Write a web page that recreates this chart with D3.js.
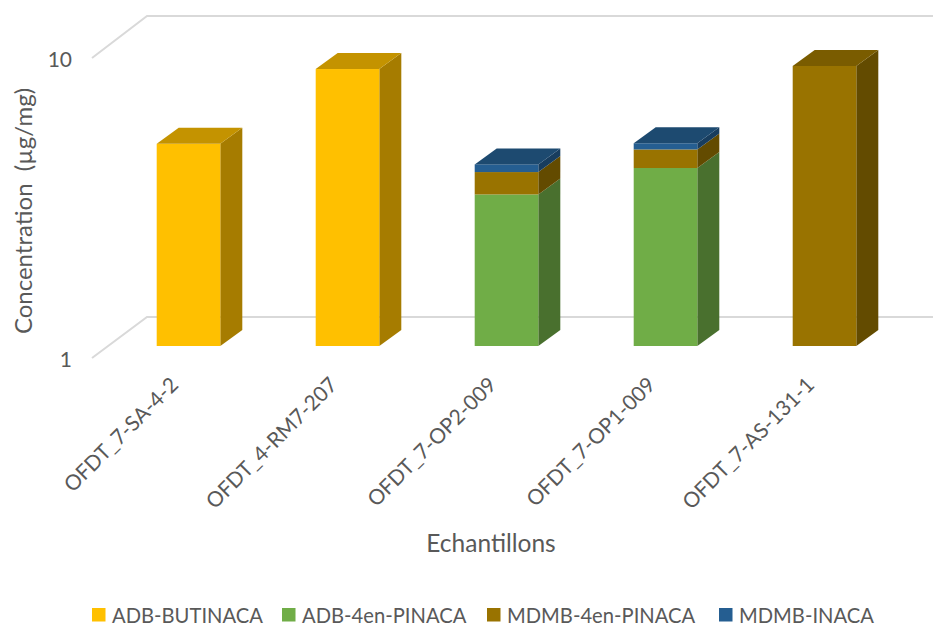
<!DOCTYPE html>
<html>
<head>
<meta charset="utf-8">
<script src="https://cdn.jsdelivr.net/npm/d3@7/dist/d3.min.js"></script>
<style>
html, body { margin: 0; padding: 0; background: #fff; }
svg { display: block; }
text { font-family: Lato, "Open Sans", sans-serif; fill: #595959; }
</style>
</head>
<body>
<svg id="chart" width="933" height="625"></svg>
<script>
const samples = ["OFDT_7-SA-4-2", "OFDT_4-RM7-207", "OFDT_7-OP2-009", "OFDT_7-OP1-009", "OFDT_7-AS-131-1"];
const seriesNames = ["ADB-BUTINACA", "ADB-4en-PINACA", "MDMB-4en-PINACA", "MDMB-INACA"];
const adbButinaca = [4.72, 8.38, 0, 0, 0];
const adb4enPinaca = [0, 0, 3.2, 3.92, 0];
const mdmb4enPinaca = [0, 0, 0.6, 0.60, 8.58];
const mdmbInaca = [0, 0, 0.23, 0.22, 0];
const yTicks = [1, 10];

const frontColors = ["#FFC000", "#70AD47", "#997300", "#255E91"];
const sideColors = ["#A67C00", "#49702E", "#634B00", "#183D5E"];
const topColors = ["#C49300", "#568536", "#7A5C00", "#1D4A70"];
const legendX = [92, 282, 487, 719];

const svg = d3.select("#chart");
const depthX = 22, depthY = 16;

const x = d3.scaleBand().domain(samples).range([109, 904]).paddingInner(0.6).paddingOuter(0.3);
const yBar = d3.scaleLog().domain([1, 10]).range([346, 46]);
const yWall = d3.scaleLog().domain([1, 10]).range([317, 16]);
const yFront = d3.scaleLog().domain([1, 10]).range([358, 58]);

// Gridlines: a slanted run on the side wall, then along the back wall
const grid = svg.append("g").attr("fill", "none").attr("stroke", "#D9D9D9").attr("stroke-width", 2);
grid.selectAll("path").data(yTicks).join("path")
  .attr("d", d => `M92,${yFront(d)}L147,${yWall(d)}L933,${yWall(d)}`);

// Stacked bars
const rows = samples.map((s, i) => ({
  sample: s,
  [seriesNames[0]]: adbButinaca[i],
  [seriesNames[1]]: adb4enPinaca[i],
  [seriesNames[2]]: mdmb4enPinaca[i],
  [seriesNames[3]]: mdmbInaca[i]
}));
const layers = d3.stack().keys(seriesNames)(rows);
const bars = svg.append("g");

samples.forEach((s, i) => {
  const x0 = x(s), x1 = x0 + x.bandwidth();
  const segs = layers.map((l, k) => ({ k, y0: l[i][0], y1: l[i][1] })).filter(d => d.y1 > d.y0);
  const g = bars.append("g");
  segs.forEach(seg => {
    const yb = yBar(Math.max(1, seg.y0)), yt = yBar(seg.y1);
    g.append("path").attr("fill", sideColors[seg.k])
      .attr("d", `M${x1},${yb}L${x1 + depthX},${yb - depthY}L${x1 + depthX},${yt - depthY}L${x1},${yt}Z`);
    g.append("rect").attr("fill", frontColors[seg.k])
      .attr("x", x0).attr("y", yt).attr("width", x1 - x0).attr("height", yb - yt);
  });
  const last = segs[segs.length - 1];
  const yt = yBar(last.y1);
  g.append("path").attr("fill", topColors[last.k])
    .attr("d", `M${x0},${yt}L${x0 + depthX},${yt - depthY}L${x1 + depthX},${yt - depthY}L${x1},${yt}Z`);
});

// Value axis
const yAxis = svg.append("g").attr("transform", "translate(78,2)")
  .call(d3.axisLeft(yFront).tickValues(yTicks).tickFormat(d3.format("d")).tickSize(0).tickPadding(6));
yAxis.select(".domain").remove();
yAxis.selectAll("text").attr("font-size", 21).style("font-family", "Lato, sans-serif").style("fill", "#595959");

// Category axis with slanted labels
const xAxis = svg.append("g").attr("transform", "translate(0,372)")
  .call(d3.axisBottom(x).tickSize(0).tickPadding(0));
xAxis.select(".domain").remove();
xAxis.selectAll("text")
  .attr("font-size", 21)
  .style("font-family", "Lato, sans-serif").style("fill", "#595959")
  .attr("text-anchor", "end")
  .attr("dy", "0.35em").attr("y", 0).attr("x", 0)
  .attr("transform", "translate(-14,9) rotate(-45)");

// Axis titles
svg.append("text").attr("x", 491).attr("y", 552).attr("text-anchor", "middle")
  .attr("font-size", 24.5).text("Echantillons");
svg.append("text").attr("transform", "translate(32,211) rotate(-90)").attr("text-anchor", "middle")
  .attr("font-size", 24).attr("xml:space", "preserve").text("Concentration  (µg/mg)");

// Legend
const legend = svg.append("g").selectAll("g").data(seriesNames).join("g")
  .attr("transform", (d, i) => `translate(${legendX[i]},608)`);
legend.append("rect").attr("width", 13.5).attr("height", 13.5).attr("fill", (d, i) => frontColors[i]);
legend.append("text").attr("x", 20).attr("y", 14.5).attr("font-size", 20.2).text(d => d);
</script>
</body>
</html>
